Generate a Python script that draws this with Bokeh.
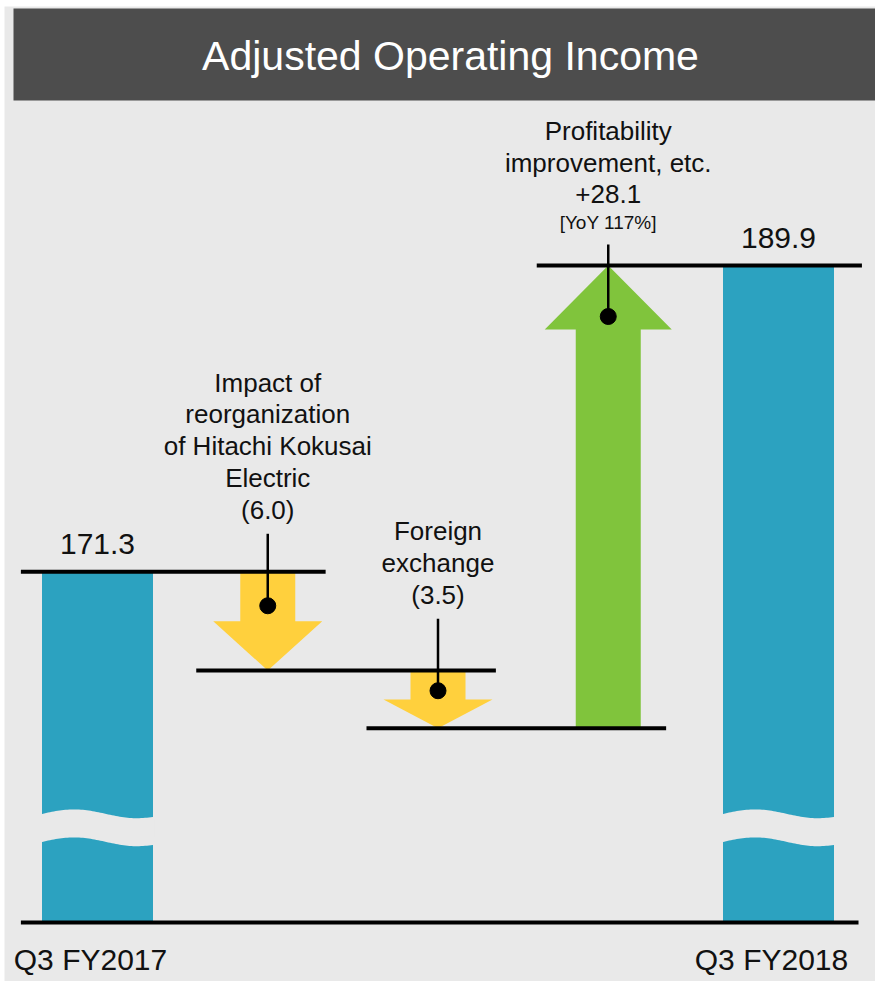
import numpy as np
from bokeh.plotting import figure
from bokeh.models import Range1d
from bokeh.core.properties import value
from bokeh.embed import file_html
from bokeh.resources import INLINE

# ---------------- data ----------------
title = "Adjusted Operating Income"
categories = ["Q3 FY2017", "Q3 FY2018"]
start_value = 171.3
end_value = 189.9
step_names = [
    ["Impact of", "reorganization", "of Hitachi Kokusai", "Electric"],
    ["Foreign", "exchange"],
    ["Profitability", "improvement, etc."],
]
step_values = [-6.0, -3.5, 28.1]
step_notes = ["", "", "[YoY 117%]"]
axis_floor = 150.0  # value where the broken axis starts

# ---------------- styles ----------------
BG = "#e9e9e9"
BAND = "#4d4d4d"
BLUE = "#2ca2c0"
YELLOW = "#ffd03d"
GREEN = "#80c43c"
INK = "#111111"
FONT = value("Liberation Sans")

W, H = 875, 981
OX, OY = 4, 6                 # frame offset inside the canvas
FW, FH = W - OX, H - OY
UX = 170.25                   # px per column
x_start = -(97 - OX) / UX     # first column centred at canvas x=97
x_end = x_start + FW / UX
TOP_PX, BASE_PX = 265 - OY, 922 - OY
K = (BASE_PX - TOP_PX) / (end_value - axis_floor)   # px per value unit
y_end = end_value + TOP_PX / K
y_start = axis_floor - (FH - BASE_PX) / K


def fx(px):
    return x_start + (px - OX) / UX


def fy(py):
    return y_end - (py - OY) / K


def mid(size):
    # shift from alphabetic baseline to the text's vertical middle
    return 0.355 * size / K


p = figure(width=W, height=H, x_range=Range1d(x_start, x_end),
           y_range=Range1d(y_start, y_end), output_backend="svg",
           toolbar_location=None, min_border=0, min_border_left=OX,
           min_border_top=OY, x_axis_location=None,
           y_axis_location=None, background_fill_color=BG,
           border_fill_color="white", outline_line_color=None)
p.grid.visible = False

# title band
p.quad(left=[fx(13)], right=[x_end], top=[fy(8)], bottom=[fy(100)],
       color=BAND, line_color=None)
p.text(x=[fx(450)], y=[fy(55)], text=[title], text_color="white",
       text_font=FONT, text_font_size="41px", text_align="center",
       text_baseline="middle")

# levels
levels = [start_value]
for v in step_values:
    levels.append(levels[-1] + v)

# bars
bar_x = [0, len(step_values) + 1]
bar_top = [start_value, end_value]
bar_w = 111 / UX
p.vbar(x=bar_x, top=bar_top, bottom=axis_floor, width=bar_w,
       color=BLUE, line_color=None)

# axis break waves
t = np.linspace(0, 1, 60)
wave = 4.4 * np.sin(2 * np.pi * (t - 0.02) / 1.1) / K
brk_top = axis_floor + 108.7 / K
gap = 28 / K
wxs, wys = [], []
for xc in bar_x:
    xl, xr = xc - bar_w / 2 - 0.01, xc + bar_w / 2 + 0.01
    xx = xl + t * (xr - xl)
    wxs.append(list(xx) + list(xx[::-1]))
    wys.append(list(brk_top + wave) + list((brk_top - gap + wave)[::-1]))
p.patches(xs=wxs, ys=wys, color=BG, line_color=None)

# arrows
axs, ays, acol = [], [], []
dot_x, dot_y = [], []
ld_x0, ld_y0, ld_y1 = [], [], []
txt_x, txt_y, txt, txt_size = [], [], [], []
for i, d in enumerate(step_values):
    xc = i + 1
    y0, y1 = levels[i], levels[i + 1]
    up = d > 0
    len_px = abs(d) * K
    if up:
        sw, hw = 32.5 / UX, 63.5 / UX
        head_px = 64
        dot_px = 51
    else:
        sw, hw = 27.5 / UX, 54.5 / UX
        head_px = min(0.5 * len_px, 52)
        dot_px = min(0.7 * (len_px - head_px), 34)
    s = 1 if up else -1
    yh = y1 - s * head_px / K
    axs.append([xc - sw, xc + sw, xc + sw, xc + hw, xc, xc - hw, xc - sw])
    ays.append([y0, y0, yh, yh, y1, yh, yh])
    acol.append(GREEN if up else YELLOW)
    upper = max(y0, y1)
    yd = upper - dot_px / K
    yl = yd + 72 / K
    dot_x.append(xc)
    dot_y.append(yd)
    ld_x0.append(xc)
    ld_y0.append(yd)
    ld_y1.append(yl)
    base = yl + 15 / K
    vtxt = f"+{d:.1f}" if up else f"({abs(d):.1f})"
    cur = base
    if step_notes[i]:
        txt_x.append(xc); txt_y.append(cur + mid(19)); txt.append(step_notes[i]); txt_size.append("19px")
        cur += 26 / K
    txt_x.append(xc); txt_y.append(cur + mid(26)); txt.append(vtxt); txt_size.append("26px")
    for name in reversed(step_names[i]):
        cur += 31.7 / K
        txt_x.append(xc); txt_y.append(cur + mid(26)); txt.append(name); txt_size.append("26px")

p.patches(xs=axs, ys=ays, fill_color=acol, line_color=None)

# level lines
lx0, lx1, ly = [], [], []
n = len(levels)
for i in range(n):
    left = -0.45 if i == 0 else i - 0.42
    right = (i + 1 + 0.49) if i == n - 1 else i + 1 + 0.34
    lx0.append(left); lx1.append(right); ly.append(levels[i])
p.segment(x0=lx0, y0=ly, x1=lx1, y1=ly, line_color="black", line_width=4)

# baseline
p.segment(x0=[-0.45], y0=[axis_floor], x1=[len(step_values) + 1.47],
          y1=[axis_floor], line_color="black", line_width=4)

# leaders and dots
p.segment(x0=ld_x0, y0=ld_y0, x1=ld_x0, y1=ld_y1, line_color="black",
          line_width=2.5)
p.scatter(x=dot_x, y=dot_y, size=16, color="black")

# annotation texts
p.text(x=txt_x, y=txt_y, text=txt, text_font_size=txt_size, text_font=FONT,
       text_color=INK, text_align="center", text_baseline="middle")

# bar value labels
p.text(x=bar_x, y=[v + 17 / K + mid(30) for v in bar_top],
       text=[f"{v:.1f}" for v in bar_top],
       text_font=FONT, text_font_size="30px", text_color=INK,
       text_align="center", text_baseline="middle")

# category labels
p.text(x=[xx - 7 / UX for xx in bar_x], y=[axis_floor - 48 / K + mid(30)] * 2,
       text=categories, text_font=FONT, text_font_size="30px",
       text_color=INK, text_align="center", text_baseline="middle")

open("out.html", "w").write(file_html(p, INLINE))
